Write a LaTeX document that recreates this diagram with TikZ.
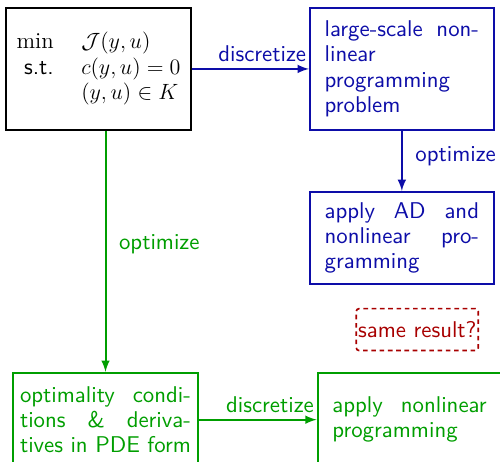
\documentclass[tikz,border=0pt]{standalone}
\usepackage{fontspec}
\setsansfont{lmsans10-regular.otf}[BoldFont=lmsans10-bold.otf]
\usepackage{xcolor}
\usepackage{amsmath}
\usepackage{amssymb}
\usepackage{tikz}
\usetikzlibrary{arrows, positioning}
\definecolor{nlpblue}{rgb}{0.05,0.05,0.66}
\definecolor{pdegreen}{rgb}{0.0,0.62,0.0}
\definecolor{askred}{rgb}{0.66,0.0,0.0}
\tikzset{%
	every node/.style={font=\fontsize{12.4}{13.8}\selectfont\sffamily},
	prob/.style={draw, rectangle, line width=1.1pt, minimum width=100.6pt,%
		minimum height=66.4pt, inner sep=4pt},
	nlp/.style={draw=nlpblue, text=nlpblue, rectangle, line width=1.1pt,%
		text width=84pt, align=justify, inner xsep=8pt},
	pde/.style={draw=pdegreen, text=pdegreen, rectangle, line width=1.1pt,%
		text width=93pt, align=justify, inner xsep=3.6pt},
	ask/.style={draw=askred, text=askred, rectangle, line width=0.9pt,%
		dash pattern=on 2.5pt off 2pt, rounded corners=1.5pt,%
		inner xsep=1pt, minimum height=22.8pt},
	nlpflow/.style={-latex, line width=1.1pt, draw=nlpblue},
	pdeflow/.style={-latex, line width=1.1pt, draw=pdegreen}
}
\begin{document}
\begin{tikzpicture}
			\clip (0,0) rectangle (272pt,-250.8pt);
			\node[prob] (ocp) at (53.6pt,-37.5pt)
				{$\begin{array}{@{}r@{\hspace{15pt}}l@{}}
					\min & \mathcal{J}(y,u)\\
					\text{s.t.} & c(y,u)=0\\
					& (y,u)\in K
				\end{array}$};
			\node[nlp, minimum height=66.4pt, right=63.6pt of ocp] (nlp) {large-scale non-\linebreak linear\linebreak programming problem};
			\node[nlp, minimum height=50pt, below=32.6pt of nlp] (ad) {apply AD and nonlinear programming};
			\node[ask, below=12.5pt of ad, xshift=8.4pt] (same) {same result?};
			\node[pde, minimum height=51pt, below=131pt of ocp, xshift=3.8pt] (kkt) {optimality conditions \& deriva-\linebreak tives in PDE form};
			\node[nlp, draw=pdegreen, text=pdegreen, minimum height=51pt, right=64.2pt of kkt] (solve) {apply nonlinear programming};
			\draw [nlpflow] (ocp) to node[text=nlpblue, pos=1, anchor=south east, inner xsep=1pt]{discretize} (nlp);
			\draw [nlpflow] (nlp) to node[text=nlpblue, pos=0.42, right=3.5pt]{optimize} (ad);
			\draw [pdeflow] (kkt.north |- ocp.south) to node[text=pdegreen, pos=0.47, right=3.5pt]{optimize} (kkt.north);
			\draw [pdeflow] (kkt) to node[text=pdegreen, pos=1, anchor=south east, inner xsep=1pt]{discretize} (solve);
		\end{tikzpicture}
\end{document}
